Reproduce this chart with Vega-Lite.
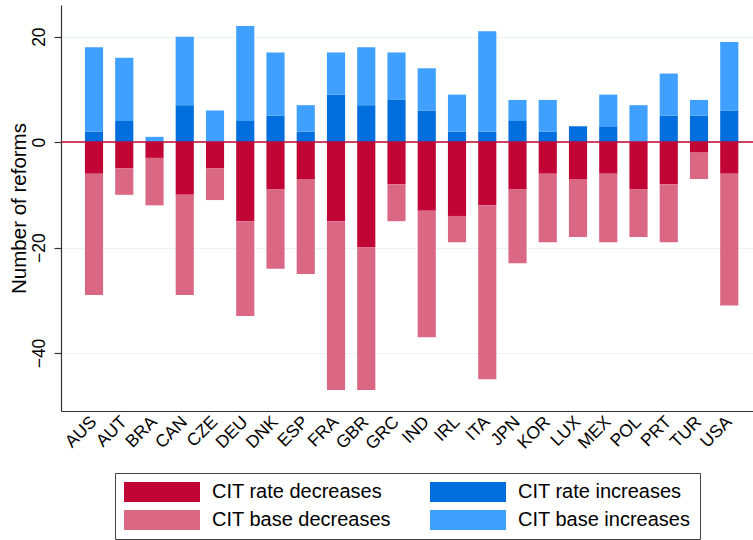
{
  "$schema": "https://vega.github.io/schema/vega-lite/v6.json",
  "autosize": "none",
  "width": 692,
  "height": 406,
  "padding": {"left": 61, "top": 5, "right": 0, "bottom": 129},
  "background": "white",
  "config": {
    "view": {"stroke": null},
    "font": "Liberation Sans",
    "axis": {"labelFont": "Liberation Sans", "titleFont": "Liberation Sans", "labelColor": "black", "titleColor": "black"},
    "legend": {"labelFont": "Liberation Sans"}
  },
  "layer": [
    {
      "data": {
        "values": [
          {"country": "AUS", "CIT rate increases": 2, "CIT base increases": 16, "CIT rate decreases": -6, "CIT base decreases": -23},
          {"country": "AUT", "CIT rate increases": 4, "CIT base increases": 12, "CIT rate decreases": -5, "CIT base decreases": -5},
          {"country": "BRA", "CIT rate increases": 0, "CIT base increases": 1, "CIT rate decreases": -3, "CIT base decreases": -9},
          {"country": "CAN", "CIT rate increases": 7, "CIT base increases": 13, "CIT rate decreases": -10, "CIT base decreases": -19},
          {"country": "CZE", "CIT rate increases": 0, "CIT base increases": 6, "CIT rate decreases": -5, "CIT base decreases": -6},
          {"country": "DEU", "CIT rate increases": 4, "CIT base increases": 18, "CIT rate decreases": -15, "CIT base decreases": -18},
          {"country": "DNK", "CIT rate increases": 5, "CIT base increases": 12, "CIT rate decreases": -9, "CIT base decreases": -15},
          {"country": "ESP", "CIT rate increases": 2, "CIT base increases": 5, "CIT rate decreases": -7, "CIT base decreases": -18},
          {"country": "FRA", "CIT rate increases": 9, "CIT base increases": 8, "CIT rate decreases": -15, "CIT base decreases": -32},
          {"country": "GBR", "CIT rate increases": 7, "CIT base increases": 11, "CIT rate decreases": -20, "CIT base decreases": -27},
          {"country": "GRC", "CIT rate increases": 8, "CIT base increases": 9, "CIT rate decreases": -8, "CIT base decreases": -7},
          {"country": "IND", "CIT rate increases": 6, "CIT base increases": 8, "CIT rate decreases": -13, "CIT base decreases": -24},
          {"country": "IRL", "CIT rate increases": 2, "CIT base increases": 7, "CIT rate decreases": -14, "CIT base decreases": -5},
          {"country": "ITA", "CIT rate increases": 2, "CIT base increases": 19, "CIT rate decreases": -12, "CIT base decreases": -33},
          {"country": "JPN", "CIT rate increases": 4, "CIT base increases": 4, "CIT rate decreases": -9, "CIT base decreases": -14},
          {"country": "KOR", "CIT rate increases": 2, "CIT base increases": 6, "CIT rate decreases": -6, "CIT base decreases": -13},
          {"country": "LUX", "CIT rate increases": 3, "CIT base increases": 0, "CIT rate decreases": -7, "CIT base decreases": -11},
          {"country": "MEX", "CIT rate increases": 3, "CIT base increases": 6, "CIT rate decreases": -6, "CIT base decreases": -13},
          {"country": "POL", "CIT rate increases": 0, "CIT base increases": 7, "CIT rate decreases": -9, "CIT base decreases": -9},
          {"country": "PRT", "CIT rate increases": 5, "CIT base increases": 8, "CIT rate decreases": -8, "CIT base decreases": -11},
          {"country": "TUR", "CIT rate increases": 5, "CIT base increases": 3, "CIT rate decreases": -2, "CIT base decreases": -5},
          {"country": "USA", "CIT rate increases": 6, "CIT base increases": 13, "CIT rate decreases": -6, "CIT base decreases": -25}
        ]
      },
      "transform": [
        {"fold": ["CIT rate decreases", "CIT rate increases", "CIT base decreases", "CIT base increases"], "as": ["series", "reforms"]}
      ],
      "mark": {"type": "bar"},
      "encoding": {
        "x": {
          "field": "country",
          "type": "nominal",
          "sort": null,
          "scale": {"paddingInner": 0.4, "paddingOuter": 0.638, "align": 0.62},
          "axis": {
            "title": null,
            "labelAngle": -45,
            "labelAlign": "right",
            "labelBaseline": "middle",
            "labelFontSize": 17.5,
            "labelPadding": 8,
            "ticks": false,
            "domainColor": "#333333",
            "domainWidth": 1.2,
            "grid": false
          }
        },
        "y": {
          "field": "reforms",
          "type": "quantitative",
          "stack": "zero",
          "scale": {"domain": [-51, 26], "nice": false, "zero": false},
          "axis": {
            "title": "Number of reforms",
            "titleFontSize": 20.5,
            "titleFontWeight": "normal",
            "titlePadding": 1,
            "values": [20, 0, -20, -40],
            "labelAngle": -90,
            "labelAlign": "center",
            "labelBaseline": "bottom",
            "labelFontSize": 17.5,
            "labelPadding": 6,
            "tickSize": 7,
            "tickColor": "#333333",
            "tickWidth": 1.2,
            "domainColor": "#333333",
            "domainWidth": 1.2,
            "grid": true,
            "gridColor": "#eaf2f3",
            "gridWidth": 1.2
          }
        },
        "color": {
          "field": "series",
          "type": "nominal",
          "scale": {
            "domain": ["CIT rate decreases", "CIT rate increases", "CIT base decreases", "CIT base increases"],
            "range": ["#c10534", "#006edc", "#da6884", "#40a0ff"]
          },
          "legend": {
            "title": null,
            "orient": "none",
            "legendX": 54,
            "legendY": 468,
            "direction": "horizontal",
            "columns": 2,
            "padding": 9,
            "strokeColor": "#444444",
            "cornerRadius": 0,
            "symbolType": "M-1,-1H6.6V1H-1Z",
            "symbolSize": 400,
            "symbolStrokeWidth": 0,
            "labelFontSize": 20,
            "labelColor": "black",
            "labelOffset": 68,
            "columnPadding": 39,
            "rowPadding": 8,
            "labelLimit": 400
          }
        },
        "order": {"field": "series", "sort": "descending"}
      }
    },
    {
      "data": {"values": [{}]},
      "mark": {"type": "rule", "color": "#c10534", "strokeWidth": 1.5},
      "encoding": {"y": {"datum": 0}}
    }
  ]
}
